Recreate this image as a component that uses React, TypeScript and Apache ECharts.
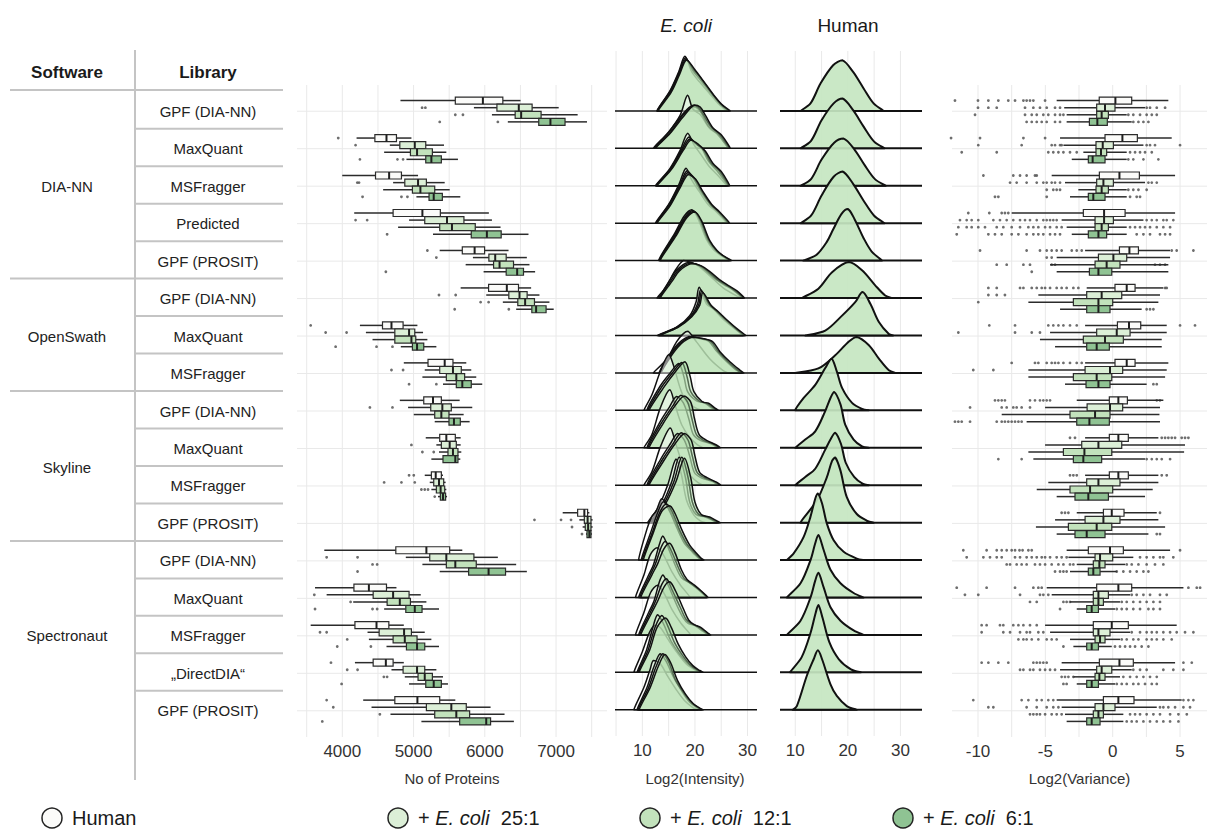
import { useEffect, useRef } from "react";
import * as echarts from "echarts";

// ---------------- table ----------------
const SOFTWARE = ["DIA-NN", "OpenSwath", "Skyline", "Spectronaut"];
const SOFTWARE_ROWS = [[0, 4], [5, 7], [8, 11], [12, 16]];
const LIBRARIES = [
  "GPF (DIA-NN)", "MaxQuant", "MSFragger", "Predicted", "GPF (PROSIT)",
  "GPF (DIA-NN)", "MaxQuant", "MSFragger",
  "GPF (DIA-NN)", "MaxQuant", "MSFragger", "GPF (PROSIT)",
  "GPF (DIA-NN)", "MaxQuant", "MSFragger", "\u201EDirectDIA\u201C", "GPF (PROSIT)",
];
const SAMPLE_LABELS = ["Human", "+ {i|E. coli}  25:1", "+ {i|E. coli}  12:1", "+ {i|E. coli}  6:1"];

// ---------------- No of proteins: [min, q1, median, q3, max] ----------------
const PROT_HUMAN = [
  [4816, 5586, 5973, 6253, 6501], [4200, 4457, 4620, 4760, 4970], [3999, 4466, 4657, 4830, 5063],
  [4167, 4713, 5124, 5376, 6057], [5367, 5684, 5857, 5997, 6333], [5661, 6053, 6309, 6473, 6650],
  [4247, 4564, 4690, 4853, 5054], [4863, 5203, 5437, 5553, 5740], [4807, 5143, 5273, 5390, 5647],
  [5171, 5367, 5460, 5586, 5661], [5157, 5250, 5311, 5390, 5413], [7093, 7303, 7397, 7443, 7467],
  [3747, 4751, 5180, 5507, 5684], [3617, 4163, 4373, 4620, 4760], [3556, 4177, 4480, 4653, 4863],
  [4177, 4433, 4611, 4713, 4863], [4293, 4737, 5054, 5367, 5586],
];
const PROT_E25 = [
  [5847, 6170, 6477, 6664, 7037], [4667, 4807, 5017, 5171, 5427], [4713, 4877, 5063, 5180, 5437],
  [4937, 5157, 5469, 5707, 6100], [5833, 6057, 6146, 6300, 6590], [6020, 6337, 6487, 6594, 6767],
  [4331, 4737, 4937, 5017, 5133], [5157, 5367, 5553, 5670, 5810], [4923, 5241, 5404, 5530, 5824],
  [5320, 5390, 5507, 5600, 5661], [5227, 5283, 5357, 5423, 5450], [7327, 7397, 7443, 7490, 7513],
  [4891, 5227, 5460, 5847, 6183], [3780, 4433, 4713, 4937, 5101], [4354, 4517, 4867, 4970, 5157],
  [4690, 4853, 5049, 5157, 5320], [4410, 5180, 5530, 5740, 6081],
];
const PROT_E12 = [
  [6100, 6426, 6510, 6790, 7303], [4587, 4956, 5049, 5264, 5460], [4573, 4984, 5096, 5297, 5507],
  [4783, 5367, 5539, 5866, 6221], [5731, 6123, 6207, 6403, 6627], [6253, 6463, 6566, 6697, 6907],
  [4424, 4737, 4970, 5031, 5194], [5124, 5460, 5600, 5717, 5880], [5003, 5297, 5390, 5497, 5703],
  [5357, 5483, 5553, 5623, 5670], [5250, 5320, 5380, 5437, 5460], [7373, 7410, 7450, 7490, 7513],
  [5124, 5460, 5586, 5880, 6440], [4153, 4629, 4807, 4956, 5180], [4373, 4713, 4877, 5049, 5250],
  [4877, 5063, 5157, 5264, 5413], [4676, 5297, 5600, 5787, 6277],
];
const PROT_E6 = [
  [6323, 6757, 6921, 7126, 7434], [4900, 5171, 5250, 5390, 5623], [5040, 5217, 5283, 5404, 5656],
  [5273, 5810, 6029, 6230, 6613], [5983, 6300, 6454, 6543, 6706], [6440, 6660, 6720, 6860, 6967],
  [4821, 4984, 5049, 5143, 5320], [5413, 5600, 5684, 5810, 5964], [5297, 5497, 5567, 5656, 5787],
  [5250, 5413, 5586, 5623, 5656], [5343, 5376, 5413, 5450, 5470], [7420, 7434, 7467, 7490, 7504],
  [5367, 5773, 6053, 6291, 6590], [4587, 4891, 5017, 5119, 5357], [4620, 4900, 5049, 5157, 5357],
  [4937, 5171, 5283, 5390, 5483], [5110, 5647, 6020, 6081, 6408],
];
// outliers: [row, sample, value]
const PROT_OUTLIERS = [
  [0, 1, 5120], [0, 1, 5166], [0, 2, 5586], [0, 2, 5693], [0, 3, 5367], [0, 3, 6183],
  [1, 0, 3943], [1, 1, 4186], [1, 3, 4247], [1, 3, 4774], [1, 3, 4853],
  [2, 1, 4210], [2, 1, 4235], [2, 3, 4284], [2, 3, 4830], [2, 3, 4914],
  [3, 1, 4186], [3, 1, 4349], [3, 3, 4629],
  [4, 0, 5194], [4, 1, 5320], [4, 3, 4611],
  [5, 1, 5357], [5, 1, 5591], [5, 2, 5941], [5, 2, 6053], [5, 3, 5577], [5, 3, 6337],
  [6, 0, 3556], [6, 1, 3766], [6, 1, 4060], [6, 3, 3906], [6, 3, 4480], [6, 3, 4704],
  [7, 1, 4690], [7, 1, 4853], [7, 3, 4937], [7, 3, 5320],
  [8, 1, 4387], [8, 1, 4704],
  [9, 1, 4970], [9, 2, 5124], [9, 2, 5283],
  [10, 0, 4937], [10, 0, 5003], [10, 1, 4587], [10, 1, 4830], [10, 1, 5017], [10, 2, 5110], [10, 2, 5157], [10, 2, 5203], [10, 3, 5297],
  [11, 1, 6697], [11, 1, 7070], [11, 1, 7210], [11, 2, 7224], [11, 3, 7364],
  [12, 1, 3780], [12, 1, 4214], [12, 2, 4424], [12, 2, 4489], [12, 3, 4214],
  [13, 1, 3607], [13, 2, 4116], [13, 3, 3617], [13, 3, 4424], [13, 3, 4489],
  [14, 1, 3687], [14, 1, 3780], [14, 2, 4069], [14, 3, 3929], [14, 3, 4401],
  [15, 0, 3841], [15, 1, 4069], [15, 1, 4214], [15, 2, 4583], [15, 2, 4629], [15, 3, 3990],
  [16, 0, 3780], [16, 1, 3873], [16, 2, 4527], [16, 3, 3719],
];

// ---------------- Log2(Variance): [min, q1, median, q3, max] ----------------
const VAR_HUMAN = [
  [-4.16, -1.0, 0.2, 1.41, 4.13], [-3.91, -0.57, 0.72, 1.83, 4.38], [-4.53, -0.99, 0.5, 1.98, 4.63],
  [-7.5, -2.18, -0.64, 0.92, 4.63], [-2.05, 0.5, 1.24, 1.91, 4.26], [-1.93, 0.17, 1.04, 1.66, 3.76],
  [-2.05, 0.35, 1.21, 2.08, 4.01], [-2.05, 0.17, 1.04, 1.66, 4.13], [-2.67, -0.25, 0.42, 1.09, 3.76],
  [-2.05, -0.25, 0.42, 1.16, 3.39], [-2.05, -0.25, 0.42, 1.16, 3.39], [-2.67, -0.69, -0.07, 0.84, 3.27],
  [-3.42, -1.81, -0.2, 0.79, 4.26], [-4.9, -1.19, 0.42, 1.41, 5.25], [-5.02, -1.44, -0.07, 1.16, 4.75],
  [-3.79, -0.99, 0.5, 1.53, 4.63], [-4.16, -0.69, 0.42, 1.58, 5.12],
];
const VAR_E25 = [
  [-3.6, -1.19, -0.57, 0.17, 2.4], [-3.66, -1.24, -0.74, 0.05, 2.28], [-3.54, -1.19, -0.69, 0.05, 2.4],
  [-3.79, -1.31, -0.64, 0.05, 2.28], [-4.16, -1.06, 0.05, 1.04, 4.26], [-5.52, -1.93, -0.82, 0.67, 3.51],
  [-4.65, -1.19, 0.3, 1.29, 4.01], [-6.26, -2.05, -0.2, 0.74, 4.01], [-5.02, -1.9, -0.2, 0.74, 3.51],
  [-5.02, -2.3, -1.06, 0.67, 5.37], [-4.78, -1.93, -1.06, 0.54, 3.39], [-4.28, -2.05, -0.69, 0.54, 3.39],
  [-3.29, -1.31, -0.94, 0.0, 1.53], [-4.53, -1.44, -1.06, -0.32, 1.29], [-4.65, -1.44, -1.06, -0.2, 1.29],
  [-3.91, -1.19, -0.82, -0.07, 1.41], [-3.79, -1.31, -0.69, 0.17, 3.27],
];
const VAR_E12 = [
  [-3.42, -1.19, -0.82, -0.32, 1.04], [-2.18, -1.24, -0.87, -0.45, 1.04], [-2.55, -1.24, -0.82, -0.32, 1.04],
  [-3.42, -1.31, -0.82, -0.32, 1.04], [-4.65, -1.31, -0.45, 0.54, 4.13], [-6.26, -2.92, -1.06, 0.0, 3.39],
  [-5.4, -2.18, -0.57, 0.79, 3.64], [-6.26, -2.92, -1.19, -0.07, 3.89], [-8.24, -3.17, -1.31, -0.2, 3.47],
  [-6.26, -3.66, -2.1, -0.07, 5.3], [-5.64, -3.17, -1.68, 0.0, 2.97], [-5.7, -3.29, -1.19, -0.07, 3.89],
  [-2.67, -1.44, -0.99, -0.57, 0.92], [-3.17, -1.44, -1.06, -0.69, 0.54], [-3.17, -1.31, -0.94, -0.57, 0.54],
  [-2.92, -1.31, -0.99, -0.57, 0.54], [-3.54, -1.44, -1.06, -0.69, 0.79],
];
const VAR_E6 = [
  [-3.42, -1.73, -1.14, -0.4, 1.41], [-3.04, -1.81, -1.49, -0.57, 1.04], [-3.17, -1.81, -1.44, -0.57, 1.04],
  [-3.04, -1.81, -1.06, -0.45, 1.04], [-4.16, -1.73, -1.06, -0.07, 4.13], [-3.91, -1.93, -1.06, -0.2, 2.15],
  [-4.28, -1.93, -1.19, -0.25, 3.64], [-3.54, -1.98, -1.06, -0.2, 2.52], [-6.39, -2.67, -1.73, -0.25, 3.51],
  [-5.89, -2.92, -2.18, -0.82, 2.4], [-4.16, -2.8, -1.81, -0.32, 2.4], [-4.16, -2.8, -1.93, -0.57, 2.65],
  [-3.17, -1.81, -1.44, -0.94, 0.3], [-2.67, -1.93, -1.56, -1.06, 0.17], [-2.92, -1.93, -1.56, -1.06, -0.07],
  [-2.67, -1.93, -1.56, -1.06, 0.17], [-3.42, -1.93, -1.56, -0.94, 0.79],
];
// outliers per row: [human, 25:1, 12:1, 6:1]
const VAR_OUTLIERS = [
  [[-11.71, -10, -9.23, -8.49, -7.75, -7.25, -6.63, -6.39, -6.14, -5.89, -5.02],
   [-10, -9.23, -8.61, -6.51, -5.89, -5.4, -4.9, -4.28, -3.91, 2.52, 2.77, 3.27, 3.89],
   [-10.22, -6.51, -6.01, -5.64, -5.15, -4.78, -4.28, -3.91, -3.66, 1.16, 1.53, 2.03, 2.52, 2.9, 3.27],
   [-6.39, -6.01, -5.64, -5.27, -4.9, -4.28, -3.91, 1.53, 1.91, 2.28, 2.65]],
  [[-12, -9.85, -6.63, -5.02],
   [-9.98, -6.76, -4.53, -4.28, -3.91, -3.79, 2.52, 2.77, 3.14, 5.0],
   [-11.21, -8.61, -4.78, -4.41, -4.03, -3.66, -3.17, -2.67, 1.29, 1.66, 2.03, 2.4, 2.9],
   [1.16, 1.53, 2.28, 3.39]],
  [[-9.6, -7.38, -6.88, -6.39, -5.77, -5.64],
   [-7.62, -7.13, -6.39, -5.64, -5.15, -4.9, -4.53, -4.28, -3.91, 2.65, 2.9, 3.27],
   [-4.9, -4.41, -4.16, -3.91, 1.16, 1.53, 1.91, 2.52],
   [-8.74, -8.49, -4.9, 1.29, 1.78, 2.03]],
  [[-10.72, -9.16, -8.24, -8.0, -7.75],
   [-11.34, -10.84, -10.47, -9.98, -8.86, -8.37, -7.87, -7.38, -6.88, -6.51, -6.14, -5.64, -5.15, -4.9, -4.65, -4.41, -4.16, 2.52, 2.9, 3.27, 3.76, 4.01, 4.5],
   [-11.46, -10.84, -10.47, -9.98, -9.48, -8.61, -8.12, -7.5, -6.88, -6.26, -5.89, -5.52, -5.02, -4.65, -4.16, -3.79, 1.29, 1.66, 2.03, 2.4, 2.77, 3.27, 3.76, 4.26],
   [-11.58, -9.23, -8.74, -8.24, -7.5, -7.0, -6.39, -5.89, -5.52, -5.15, -4.65, -4.28, -3.91, 1.78, 2.28, 2.77, 3.51, 3.89, 4.26]],
  [[-9.85, -6.39, -5.4, -4.9, -4.53, -4.16, -3.79, -3.04, -2.67, -2.3, 4.38, 4.75, 5.99],
   [-4.9, -4.53],
   [-8.61, -7.87, -6.63, -6.14, -4.53, -4.28, 3.14, 3.51, 3.89],
   [-6.01]],
  [[-9.23, -8.61, -6.88, -6.63, -6.01, -5.64, -5.27, -5.02, -4.65, -4.16, -3.79, -3.42, -2.92, -2.55, 3.89, 4.01],
   [-9.23, -8.61, -8.0],
   [-9.98],
   [2.52, 2.77, 3.02]],
  [[-9.16, -7.25, -4.78, -4.41, -4.03, -3.66, -3.17, -2.67, 5.0, 6.11],
   [-11.46, -7.25, -6.01, -5.4],
   [],
   []],
  [[-7.5, -5.77, -5.52, -4.9, -4.53, -4.28, -4.03, -3.66, -3.17, -2.67, -2.3],
   [-10.35, -8.86],
   [],
   [3.02, 3.27]],
  [[-8.74, -8.49, -8.24, -8.0, -6.14, -5.77, -5.4, -5.15, -4.9, -4.65, 3.27, 3.51],
   [-10.59, -8.24, -7.87, -7.38, -7.13, -6.76, -6.14],
   [],
   [-11.71, -11.46, -11.21, -10.59, -8.61, -8.24, -8.0, -7.75, -7.5, -7.25, -7.0, -6.76]],
  [[-3.17, -2.8, 3.64, 3.89, 4.13, 4.38, 4.63, 5.12, 5.37, 5.62],
   [],
   [],
   [-8.49, -6.76, 2.52, 2.9, 3.27, 3.64, 4.26]],
  [[-3.17, -2.92, -2.67, 3.64, 4.01],
   [],
   [],
   []],
  [[-3.79, -3.54, -3.29, 3.51],
   [],
   [],
   [3.27, 3.51]],
  [[-11.09, -9.36, -8.61, -8.24, -7.87, -7.5, -7.25, -6.92, -6.69, -6.26, -6.01, 5.0],
   [-10.84, -9.6, -9.11, -8.61, -8.24, -7.25, -6.88, -6.39, -6.01, -5.64, -5.27, -5.02, -4.65, -4.16, -3.79, -3.42, 2.03, 2.52, 3.02, 3.51, 3.76, 4.5],
   [-7.87, -7.62, -7.13, -6.76, -6.39, -5.77, -5.4, -5.02, -4.53, -4.03, -3.66, -3.17, -2.92, 1.04, 1.41, 1.91, 2.52, 3.14, 3.76],
   [-4.28, -3.91, -3.66, -3.42, 0.3, 0.79, 1.29, 1.78, 2.28, 2.65]],
  [[-11.58, -9.36, -7.25, -5.89, -5.52, -5.27, 5.62, 6.24, 6.49],
   [-10.97, -9.98, -6.88, -5.4, -5.15, -4.78, 1.41, 1.78, 2.28, 2.77, 3.51, 4.01],
   [-6.14, -5.64, -3.66, -3.42, -3.17, 0.67, 1.04, 1.53, 2.03, 2.52, 3.02, 3.51],
   [-3.91, 0.3, 0.67, 1.04, 1.53, 2.03, 2.65, 3.02, 3.51]],
  [[-9.73, -9.36, -8.37, -8.12, -7.38, -7.0, -6.63, -6.14, -5.64],
   [-9.73, -8.12, -7.62, -6.88, -6.39, -6.14, -5.52, -5.15, 1.41, 2.03, 2.52, 2.9, 3.27, 3.76, 4.26, 4.75, 5.37, 5.99],
   [-7.0, -6.63, -6.39, -6.01, -5.52, -4.9, -4.53, -4.16, 0.67, 1.04, 1.53, 1.91, 2.52, 2.9, 3.27, 3.76, 4.38],
   [-3.66, 0.17, 0.54, 0.92, 1.29, 1.66, 2.15, 2.65]],
  [[-9.73, -9.23, -8.49, -7.75, -5.89, -5.64, -5.4, -5.15, -4.9, 5.25, 5.87],
   [-6.88, -6.63, -6.14, -5.89, -5.4, -5.02, -4.65, -4.28, 1.53, 2.03, 2.52, 3.76, 4.5, 5.25],
   [-3.79, -3.54, -3.29, -2.92, 0.79, 1.29, 1.78, 2.28, 2.77, 3.27],
   [-3.66, -3.42, 0.3, 0.67, 1.04, 1.53, 1.91, 2.4, 2.9, 3.27]],
  [[-10.35, -6.76, -6.26, -5.64, -5.27, -4.78, -4.41, 5.25, 5.62, 5.99],
   [-9.23, -8.86, -6.39, -5.64, -4.9, -4.41, -4.03, 3.51, 3.76, 4.13, 4.63, 5.25, 5.74],
   [-6.14, -5.89, -5.64, -5.4, -5.02, -4.53, -4.16, -3.79, 1.29, 1.66, 2.03, 2.52, 3.02, 3.51, 4.26, 4.88, 5.5],
   [1.04, 1.41, 1.78, 2.28, 2.77, 3.27, 3.76, 4.26, 4.88]],
];

// ---------------- Log2(Intensity) density ridges: knots [log2 intensity, height in rows] ----------------
const ECOLI_HUMAN = [
  [[12.8, 0], [15.3, 0.55], [16.9, 1.04], [18.1, 1.46], [19.4, 1.04], [20.9, 0.77], [22.8, 0.46], [24.4, 0.2], [26, 0]],
  [[12.1, 0], [15, 0.44], [17.2, 0.89], [18.6, 1.42], [19.6, 1.05], [21, 0.9], [22.8, 0.53], [24.1, 0.4], [26.3, 0]],
  [[12.5, 0], [15.2, 0.45], [17.2, 0.95], [18.6, 1.4], [19.8, 1.1], [21.3, 0.8], [22.8, 0.5], [24.2, 0.3], [26, 0]],
  [[12.5, 0], [15, 0.5], [17, 1.05], [18.3, 1.47], [19.4, 1.15], [20.8, 0.85], [22.5, 0.5], [24.1, 0.3], [26, 0]],
  [[13.1, 0], [16.2, 0.74], [18, 1.2], [19.4, 1.36], [20.5, 1.15], [22.2, 0.56], [23.5, 0.3], [24.7, 0.16], [26.5, 0]],
  [[12.8, 0], [14.5, 0.3], [16.3, 0.75], [17.8, 1.0], [19.3, 0.95], [20.6, 0.86], [22.8, 0.6], [25.3, 0.28], [27.9, 0.06], [29, 0]],
  [[12.8, 0], [16.5, 0.22], [19, 0.53], [20.2, 0.89], [20.8, 1.29], [22.2, 0.84], [23.5, 0.71], [25.3, 0.44], [27.2, 0.22], [29.1, 0]],
  [[12.1, 0], [14.7, 0.38], [16.5, 0.83], [17.8, 1.05], [18.7, 1.11], [20.3, 0.83], [22.8, 0.38], [25.3, 0.07], [26.3, 0]],
  [[10.3, 0], [11.8, 0.41], [13.4, 1.03], [15, 1.49], [15.9, 1.21], [17.2, 0.59], [18.4, 0.23], [20.3, 0.05], [21.5, 0]],
  [[10.3, 0], [11.8, 0.35], [13.4, 1.06], [15.2, 1.55], [16.2, 1.15], [17.5, 0.61], [19.1, 0.26], [20.5, 0.08], [21.5, 0]],
  [[10.3, 0], [11.8, 0.35], [13.5, 1.05], [15.3, 1.53], [16.3, 1.13], [17.6, 0.6], [19.2, 0.25], [20.6, 0.07], [21.6, 0]],
  [[11, 0], [13, 0.4], [14.8, 1.0], [16.4, 1.7], [17.4, 1.3], [18.4, 0.6], [19.8, 0.2], [21, 0.05], [22, 0]],
  [[9.3, 0], [10.9, 0.84], [11.8, 1.16], [12.6, 1.3], [13.7, 1.64], [15, 1.38], [16.5, 0.93], [18.1, 0.49], [19.7, 0.18], [21.3, 0]],
  [[8.7, 0], [10.3, 0.6], [11.5, 1.14], [12.8, 1.33], [14, 1.14], [15.6, 0.69], [17.2, 0.34], [19.1, 0]],
  [[8.7, 0], [10.3, 0.6], [11.6, 1.14], [12.9, 1.33], [14.1, 1.12], [15.7, 0.66], [17.3, 0.32], [19.2, 0]],
  [[8.4, 0], [10, 0.55], [11.3, 1.05], [12.3, 1.25], [13.4, 1.2], [14.8, 0.9], [16.5, 0.55], [18.4, 0.22], [20.3, 0.04], [21, 0]],
  [[8.4, 0], [10.3, 0.6], [11.5, 1.09], [12.1, 1.32], [13.4, 1.23], [14.8, 0.9], [16.4, 0.55], [18, 0.25], [19.6, 0.06], [20.5, 0]],
];
const ECOLI_25 = [
  [[12.8, 0], [15.3, 0.53], [16.9, 1.0], [18.2, 1.42], [19.6, 1.08], [21.2, 0.8], [23.2, 0.45], [24.8, 0.18], [26.3, 0]],
  [[12.3, 0], [15, 0.42], [17.3, 0.85], [19.2, 1.12], [20.2, 1.1], [21.2, 0.95], [22.5, 0.6], [24.3, 0.38], [26.3, 0]],
  [[12.6, 0], [15.3, 0.45], [17.4, 0.95], [18.8, 1.3], [20, 1.15], [21.3, 1.0], [22.6, 0.65], [24.2, 0.4], [26.2, 0]],
  [[12.6, 0], [15.1, 0.5], [17.1, 1.02], [18.5, 1.4], [19.7, 1.2], [21, 0.88], [22.8, 0.52], [24.3, 0.32], [26.2, 0]],
  [[13.2, 0], [16.3, 0.72], [18.2, 1.18], [19.6, 1.34], [20.8, 1.12], [22.4, 0.56], [23.8, 0.3], [25, 0.15], [26.7, 0]],
  [[13.2, 0], [15.3, 0.5], [16.6, 0.76], [18.7, 0.95], [20.6, 0.88], [22.3, 0.7], [23.8, 0.52], [25.5, 0.36], [27.2, 0.22], [29, 0]],
  [[13, 0], [16.6, 0.22], [19.2, 0.52], [20.5, 0.85], [21.1, 1.22], [22.5, 0.85], [23.8, 0.68], [25.6, 0.44], [27.5, 0.2], [29.3, 0]],
  [[13.2, 0], [16.3, 0.7], [18.8, 0.97], [20.9, 0.92], [22.6, 0.85], [24, 0.6], [25.9, 0.32], [27.8, 0.08], [28.8, 0]],
  [[10.9, 0], [13.4, 0.65], [15.3, 1.0], [16.9, 1.25], [17.9, 0.9], [18.6, 0.5], [20.3, 0.25], [21.8, 0.2], [23.3, 0.05], [24, 0]],
  [[10.9, 0], [13.4, 0.7], [15.2, 1.1], [16.5, 1.37], [17.8, 1.2], [18.8, 0.79], [19.7, 0.35], [21, 0.2], [23.2, 0.1], [24.2, 0]],
  [[10.9, 0], [13.5, 0.7], [15.3, 1.1], [16.7, 1.38], [18, 1.2], [19, 0.78], [19.9, 0.34], [21.2, 0.2], [23.4, 0.1], [24.3, 0]],
  [[11.5, 0], [13.8, 0.5], [15.6, 1.1], [17, 1.75], [18.2, 1.2], [19, 0.55], [20.2, 0.22], [22, 0.15], [23.5, 0.05], [24.2, 0]],
  [[9.8, 0], [11.5, 0.7], [13, 1.3], [14, 1.56], [15.2, 1.3], [16.6, 0.85], [18, 0.45], [19.5, 0.22], [20.5, 0.08], [21.3, 0]],
  [[9.3, 0], [11.2, 0.6], [12.1, 0.87], [13.2, 1.4], [13.9, 1.64], [15, 1.3], [16.5, 0.78], [17.5, 0.52], [19.1, 0.38], [20.3, 0.25], [21.6, 0.09], [22.2, 0]],
  [[9.3, 0], [11.2, 0.6], [12.2, 0.9], [13.2, 1.4], [13.9, 1.6], [15, 1.3], [16.6, 0.78], [17.8, 0.45], [18.7, 0.31], [20, 0.25], [21.5, 0.1], [22.5, 0]],
  [[9, 0], [10.8, 0.6], [12, 1.2], [12.9, 1.54], [14, 1.3], [15.4, 0.85], [17, 0.5], [18.6, 0.24], [20.3, 0.06], [21.2, 0]],
  [[9, 0], [10.9, 0.6], [12.2, 1.15], [13.4, 1.5], [14.5, 1.3], [16, 0.85], [17.5, 0.5], [19, 0.2], [20.5, 0.05], [21.2, 0]],
];
const ECOLI_12 = [
  [[12.9, 0], [15.4, 0.52], [17, 1.0], [18.3, 1.38], [19.8, 1.1], [21.4, 0.82], [23.4, 0.44], [25, 0.17], [26.5, 0]],
  [[12.4, 0], [15.2, 0.4], [17.5, 0.85], [19.6, 1.15], [20.6, 1.1], [21.6, 0.9], [23, 0.58], [24.6, 0.38], [26.5, 0]],
  [[12.7, 0], [15.4, 0.44], [17.6, 0.95], [19, 1.25], [20.4, 1.1], [21.7, 0.95], [23, 0.62], [24.6, 0.4], [26.4, 0]],
  [[12.7, 0], [15.2, 0.48], [17.2, 1.0], [18.6, 1.35], [19.9, 1.2], [21.3, 0.86], [23, 0.5], [24.5, 0.3], [26.4, 0]],
  [[13.3, 0], [16.4, 0.7], [18.3, 1.16], [19.8, 1.32], [21, 1.1], [22.6, 0.55], [24, 0.28], [25.2, 0.14], [26.8, 0]],
  [[13.3, 0], [15.5, 0.48], [16.8, 0.74], [19, 0.93], [20.9, 0.87], [22.6, 0.7], [24.2, 0.5], [25.9, 0.35], [27.6, 0.2], [29.2, 0]],
  [[13.1, 0], [16.7, 0.22], [19.3, 0.5], [20.7, 0.82], [21.3, 1.18], [22.8, 0.82], [24.1, 0.66], [25.9, 0.42], [27.8, 0.18], [29.5, 0]],
  [[13.4, 0], [16.5, 0.69], [19.1, 0.96], [21.3, 0.92], [23, 0.84], [24.4, 0.58], [26.3, 0.3], [28.2, 0.07], [29, 0]],
  [[11.1, 0], [13.7, 0.63], [15.7, 1.0], [17.5, 1.28], [18.5, 0.9], [19.2, 0.5], [20.9, 0.24], [22.2, 0.19], [23.6, 0.05], [24.3, 0]],
  [[11.1, 0], [13.7, 0.68], [15.7, 1.1], [17.3, 1.4], [18.6, 1.22], [19.4, 0.79], [20.3, 0.35], [21.6, 0.2], [23.6, 0.09], [24.5, 0]],
  [[11.1, 0], [13.8, 0.68], [15.8, 1.1], [17.4, 1.4], [18.7, 1.2], [19.5, 0.78], [20.4, 0.34], [21.8, 0.2], [23.8, 0.09], [24.6, 0]],
  [[11.7, 0], [14.1, 0.5], [16, 1.1], [17.5, 1.75], [18.7, 1.2], [19.5, 0.55], [20.7, 0.22], [22.4, 0.15], [23.8, 0.05], [24.5, 0]],
  [[10, 0], [11.8, 0.7], [13.4, 1.3], [14.6, 1.5], [15.7, 1.28], [17.1, 0.8], [18.5, 0.42], [19.9, 0.2], [20.8, 0.07], [21.5, 0]],
  [[9.5, 0], [11.5, 0.6], [12.5, 0.9], [13.6, 1.35], [14.4, 1.5], [15.5, 1.25], [17, 0.75], [18, 0.5], [19.5, 0.35], [20.7, 0.22], [21.8, 0.08], [22.3, 0]],
  [[9.5, 0], [11.5, 0.6], [12.5, 0.9], [13.7, 1.35], [14.6, 1.5], [15.6, 1.22], [17.2, 0.74], [18.3, 0.42], [19.3, 0.3], [20.6, 0.22], [22, 0.08], [22.8, 0]],
  [[9.2, 0], [11.1, 0.6], [12.4, 1.2], [13.7, 1.52], [14.8, 1.25], [16.1, 0.8], [17.6, 0.46], [19.1, 0.2], [20.6, 0.05], [21.4, 0]],
  [[9.2, 0], [11.2, 0.6], [12.6, 1.15], [13.9, 1.5], [15, 1.28], [16.3, 0.8], [17.9, 0.45], [19.4, 0.18], [20.8, 0.04], [21.4, 0]],
];
const ECOLI_6 = [
  [[13, 0], [15.5, 0.5], [17.1, 0.98], [18.4, 1.36], [20, 1.1], [21.6, 0.8], [23.6, 0.42], [25.2, 0.16], [26.7, 0]],
  [[12.5, 0], [15.3, 0.4], [17.7, 0.83], [19.9, 1.16], [21, 1.1], [22, 0.88], [23.4, 0.55], [25, 0.36], [26.7, 0]],
  [[12.8, 0], [15.5, 0.43], [17.8, 0.95], [19.2, 1.22], [20.7, 1.1], [22, 0.92], [23.4, 0.6], [25, 0.38], [26.6, 0]],
  [[12.8, 0], [15.3, 0.47], [17.3, 0.98], [18.7, 1.3], [20.1, 1.18], [21.5, 0.85], [23.2, 0.5], [24.7, 0.3], [26.6, 0]],
  [[13.4, 0], [16.5, 0.68], [18.4, 1.14], [20, 1.3], [21.2, 1.08], [22.8, 0.54], [24.2, 0.27], [25.4, 0.13], [27, 0]],
  [[13.4, 0], [15.7, 0.46], [17, 0.72], [19.3, 0.92], [21.2, 0.86], [22.9, 0.7], [24.6, 0.5], [26.3, 0.34], [28, 0.19], [29.4, 0]],
  [[13.2, 0], [16.8, 0.22], [19.4, 0.5], [20.9, 0.8], [21.5, 1.14], [23.1, 0.8], [24.4, 0.64], [26.2, 0.4], [28.1, 0.17], [29.7, 0]],
  [[13.6, 0], [16.7, 0.68], [19.4, 0.95], [21.7, 0.91], [23.4, 0.83], [24.8, 0.56], [26.7, 0.29], [28.6, 0.07], [29.3, 0]],
  [[11.3, 0], [14, 0.6], [16.1, 1.0], [18.1, 1.3], [19.1, 0.9], [19.8, 0.5], [21.4, 0.23], [22.6, 0.19], [23.9, 0.05], [24.5, 0]],
  [[11.3, 0], [14, 0.66], [16.1, 1.1], [17.9, 1.38], [19.2, 1.22], [19.9, 0.79], [20.8, 0.35], [22.2, 0.2], [24, 0.08], [24.8, 0]],
  [[11.3, 0], [14.1, 0.66], [16.2, 1.1], [18, 1.38], [19.3, 1.2], [20, 0.78], [20.9, 0.34], [22.3, 0.2], [24.1, 0.08], [24.9, 0]],
  [[11.9, 0], [14.4, 0.5], [16.4, 1.1], [18, 1.72], [19.2, 1.2], [20, 0.55], [21.2, 0.22], [22.8, 0.15], [24.1, 0.05], [24.8, 0]],
  [[10.2, 0], [12, 0.7], [13.7, 1.3], [15.2, 1.45], [16.2, 1.25], [17.6, 0.78], [19, 0.4], [20.3, 0.18], [21.1, 0.06], [21.7, 0]],
  [[9.7, 0], [11.8, 0.6], [12.9, 0.9], [14.1, 1.3], [15.2, 1.45], [16.2, 1.2], [17.5, 0.72], [18.5, 0.48], [19.9, 0.33], [21, 0.2], [22, 0.07], [22.5, 0]],
  [[9.7, 0], [11.8, 0.6], [12.9, 0.9], [14.2, 1.3], [15.2, 1.42], [16.3, 1.18], [17.8, 0.7], [18.8, 0.4], [19.8, 0.28], [21.1, 0.2], [22.3, 0.07], [23, 0]],
  [[9.4, 0], [11.4, 0.6], [12.8, 1.2], [14.4, 1.45], [15.5, 1.2], [16.8, 0.76], [18.2, 0.42], [19.6, 0.18], [20.9, 0.05], [21.6, 0]],
  [[9.4, 0], [11.5, 0.6], [13, 1.15], [14.3, 1.48], [15.4, 1.25], [16.7, 0.78], [18.2, 0.42], [19.7, 0.16], [21, 0.04], [21.6, 0]],
];
const HUMAN_RIDGE = [
  [[11, 0], [12.9, 0.2], [14.8, 0.73], [17.2, 1.22], [19, 1.35], [21, 1.04], [23, 0.6], [24.9, 0.2], [26.8, 0]],
  [[11, 0], [13, 0.2], [15, 0.75], [17.3, 1.2], [19, 1.33], [21, 1.02], [23, 0.58], [25, 0.18], [27, 0]],
  [[11, 0], [13, 0.18], [15, 0.7], [17.4, 1.15], [19.2, 1.26], [21.2, 0.98], [23.2, 0.55], [25.2, 0.17], [27.2, 0]],
  [[11, 0], [13, 0.2], [15, 0.74], [17.3, 1.24], [19, 1.38], [21, 1.05], [23, 0.6], [25, 0.2], [27, 0]],
  [[11.5, 0], [14, 0.15], [16, 0.5], [17.2, 0.83], [18.8, 1.25], [20, 1.38], [21.3, 1.1], [23, 0.6], [24.5, 0.25], [26.5, 0]],
  [[11.3, 0], [14.4, 0.25], [17, 0.69], [20.2, 0.96], [22.7, 0.74], [25.2, 0.34], [27.1, 0.07], [28.4, 0]],
  [[11.9, 0], [15.7, 0.13], [18.9, 0.53], [21.4, 0.89], [22.8, 1.16], [24.3, 0.84], [25.9, 0.36], [27.8, 0.04], [28.6, 0]],
  [[10, 0], [14.4, 0.12], [17.6, 0.47], [20.2, 0.84], [21.7, 0.96], [24, 0.74], [25.9, 0.38], [27.8, 0.07], [29, 0]],
  [[10, 0], [11.6, 0.33], [13.8, 0.68], [15.7, 1.13], [16.9, 1.38], [17.9, 1.04], [18.9, 0.6], [20.8, 0.2], [22.7, 0.04], [24, 0]],
  [[10, 0], [11.9, 0.22], [13.8, 0.44], [15.7, 0.98], [16.7, 1.33], [17.4, 1.49], [18.6, 1.16], [19.5, 0.62], [21.1, 0.22], [22.7, 0.04], [24, 0]],
  [[10, 0], [11.9, 0.22], [13.8, 0.44], [15.7, 0.95], [16.8, 1.25], [17.6, 1.4], [18.7, 1.1], [19.6, 0.6], [21.2, 0.22], [22.8, 0.04], [24, 0]],
  [[11, 0], [14.1, 0.59], [16, 1.21], [17, 1.65], [17.6, 1.74], [18.6, 1.39], [19.8, 0.68], [21.7, 0.23], [23.7, 0.05], [24.9, 0]],
  [[8.4, 0], [9.7, 0.18], [11.6, 0.62], [12.9, 1.16], [13.8, 1.64], [14.3, 1.78], [15.1, 1.51], [16, 0.98], [17.3, 0.53], [19.2, 0.22], [21.7, 0.04], [23, 0]],
  [[8.4, 0], [11, 0.38], [12.9, 1.0], [13.8, 1.45], [14.4, 1.67], [15.4, 1.27], [16.7, 0.74], [18.6, 0.38], [21.1, 0.12], [23, 0]],
  [[8.4, 0], [11, 0.38], [12.9, 1.0], [13.8, 1.45], [14.4, 1.66], [15.4, 1.27], [16.7, 0.74], [18.6, 0.38], [21.1, 0.12], [23, 0]],
  [[9, 0], [11.2, 0.4], [12.9, 1.05], [13.9, 1.6], [14.4, 1.8], [15.2, 1.45], [16.5, 0.8], [18.3, 0.35], [20.6, 0.08], [22.5, 0]],
  [[9.5, 0], [10.3, 0.1], [12.2, 0.91], [13.5, 1.35], [14.3, 1.59], [15.1, 1.35], [16.7, 0.68], [17.9, 0.37], [19.8, 0.1], [21.7, 0]],
];

// ---------------- axes ----------------
const PROT_TICKS = [4000, 5000, 6000, 7000];
const PROT_GRID = [3500, 4000, 4500, 5000, 5500, 6000, 6500, 7000, 7500];
const INT_TICKS = [10, 20, 30];
const ECOLI_GRID = [5, 10, 15, 20, 25, 30];
const HUMAN_GRID = [10, 15, 20, 25, 30];
const VAR_TICKS = [-10, -5, 0, 5];
const VAR_GRID = [-10, -7.5, -5, -2.5, 0, 2.5, 5];

// ---------------- styling ----------------
const FONT = "Liberation Sans, Arial, Helvetica, sans-serif";
const INK = "#2b2b2b";
const BOX_FILL = ["#fbfbf9", "#dcefd7", "#c2e2bc", "#8fc393"];
const RIDGE_FILL = ["rgba(255,255,255,0.5)", "rgba(229,245,224,0.45)", "rgba(205,235,198,0.45)", "rgba(165,216,160,0.45)"];
const GRID_COLOR = "#e9e9e9";
const DODGE = 7.1;
const BOX_H = 7;

const ROWS = LIBRARIES.map((_, i) => i);

function boxItems(sets: number[][][]) {
  const out: number[][] = [];
  ROWS.forEach((r) => sets.forEach((set, g) => out.push([r, g, ...set[r]])));
  return out;
}

function boxRender(params: any, api: any) {
  const row = api.value(0);
  const g = api.value(1);
  const v = [api.value(2), api.value(3), api.value(4), api.value(5), api.value(6)];
  const yc = api.coord([v[2], row])[1] + (g - 1.5) * DODGE;
  const xs = v.map((x: number) => api.coord([x, row])[0]);
  const ls = { stroke: INK, lineWidth: 1.5 };
  return {
    type: "group",
    children: [
      { type: "line", shape: { x1: xs[0], y1: yc, x2: xs[1], y2: yc }, style: ls },
      { type: "line", shape: { x1: xs[3], y1: yc, x2: xs[4], y2: yc }, style: ls },
      { type: "rect", shape: { x: xs[1], y: yc - BOX_H / 2, width: Math.max(1, xs[3] - xs[1]), height: BOX_H },
        style: { fill: BOX_FILL[g], stroke: INK, lineWidth: 1.2 } },
      { type: "line", shape: { x1: xs[2], y1: yc - BOX_H / 2, x2: xs[2], y2: yc + BOX_H / 2 }, style: { stroke: "#1e1e1e", lineWidth: 2 } },
    ],
  };
}

function outlierRender(params: any, api: any) {
  const row = api.value(0);
  const g = api.value(1);
  const p = api.coord([api.value(2), row]);
  return { type: "circle", shape: { cx: p[0], cy: p[1] + (g - 1.5) * DODGE, r: 1.4 }, style: { fill: "#4a4a4a", opacity: 0.8 } };
}

function vGridRender(params: any, api: any) {
  const cs = params.coordSys;
  const x = api.coord([api.value(0), 0])[0];
  return { type: "line", shape: { x1: x, y1: cs.y, x2: x, y2: cs.y + cs.height }, style: { stroke: GRID_COLOR, lineWidth: 1 } };
}
function hGridRender(params: any, api: any) {
  const cs = params.coordSys;
  const y = api.coord([0, api.value(1)])[1];
  return { type: "line", shape: { x1: cs.x, y1: y, x2: cs.x + cs.width, y2: y }, style: { stroke: GRID_COLOR, lineWidth: 1 } };
}

type Curve = { row: number; g: number; knots: number[][] };

function ridgeRender(curves: Curve[], fills: string[], lw: number) {
  return (params: any, api: any) => {
    const c = curves[params.dataIndex];
    const cs = params.coordSys;
    const pts = c.knots.map(([v, h]) => api.coord([v, c.row - h]));
    const children: any[] = [];
    if (c.g === 0) {
      const yb = api.coord([0, c.row])[1];
      children.push({ type: "line", shape: { x1: cs.x, y1: yb, x2: cs.x + cs.width, y2: yb }, style: { stroke: "#111", lineWidth: lw } });
    }
    children.push({
      type: "polygon",
      shape: { points: pts, smooth: 0.32, smoothConstraint: [pts[0], pts[0]] },
      style: { fill: fills[c.g], stroke: "#111", lineWidth: lw, lineJoin: "round" },
    });
    return { type: "group", children };
  };
}

const ECOLI_CURVES: Curve[] = [];
ROWS.forEach((r) => {
  [ECOLI_HUMAN, ECOLI_25, ECOLI_12, ECOLI_6].forEach((set, g) => ECOLI_CURVES.push({ row: r, g, knots: set[r] }));
});
const HUMAN_CURVES: Curve[] = ROWS.map((r) => ({ row: r, g: 0, knots: HUMAN_RIDGE[r] }));

const VAR_OUT_ITEMS: number[][] = [];
VAR_OUTLIERS.forEach((row, r) => row.forEach((list, g) => list.forEach((v) => VAR_OUT_ITEMS.push([r, g, v]))));

function axisX(gridIndex: number, min: number, max: number, ticks: number[], name: string, nameGap: number, shift = 0) {
  return {
    gridIndex, type: "value", min, max,
    axisLine: { show: false }, axisTick: { show: false }, splitLine: { show: false },
    axisLabel: { customValues: ticks, fontSize: 17, color: "#333", margin: 6, fontFamily: FONT, formatter: (v: number) => String(v) },
    name, nameLocation: "middle", nameGap,
    nameTextStyle: { fontSize: 15, color: "#333", fontFamily: FONT, padding: [0, 0, 0, shift] },
  };
}
function axisY(gridIndex: number, min: number, max: number) {
  return { gridIndex, type: "value", min, max, inverse: true, show: false, splitLine: { show: false } };
}

function buildOption() {
  const silent = { silent: true, animation: false };
  return {
    animation: false,
    backgroundColor: "#ffffff",
    textStyle: { fontFamily: FONT },
    grid: [
      { left: 297, top: 85, width: 310, height: 652 },
      { left: 615, top: 51, width: 142, height: 685 },
      { left: 780, top: 51, width: 142, height: 685 },
      { left: 952, top: 85, width: 255, height: 652 },
    ],
    xAxis: [
      axisX(0, 3364, 7715, PROT_TICKS, "No of Proteins", 34),
      axisX(1, 4.8, 31.8, INT_TICKS, "Log2(Intensity)", 35, 18),
      axisX(2, 7.1, 34.1, INT_TICKS, "", 35),
      axisX(3, -11.93, 7.0, VAR_TICKS, "Log2(Variance)", 34),
    ],
    yAxis: [axisY(0, -0.7, 16.7), axisY(1, -1.6, 16.7), axisY(2, -1.6, 16.7), axisY(3, -0.7, 16.7)],
    series: [
      { type: "custom", name: "pgrid", xAxisIndex: 0, yAxisIndex: 0, z: 0, ...silent, renderItem: vGridRender, data: PROT_GRID.map((v) => [v, 0]) },
      { type: "custom", name: "prows", xAxisIndex: 0, yAxisIndex: 0, z: 0, ...silent, renderItem: hGridRender, data: ROWS.map((r) => [0, r]) },
      { type: "custom", name: "egrid", xAxisIndex: 1, yAxisIndex: 1, z: 0, ...silent, renderItem: vGridRender, data: ECOLI_GRID.map((v) => [v, 0]) },
      { type: "custom", name: "hgrid", xAxisIndex: 2, yAxisIndex: 2, z: 0, ...silent, renderItem: vGridRender, data: HUMAN_GRID.map((v) => [v, 0]) },
      { type: "custom", name: "vgrid", xAxisIndex: 3, yAxisIndex: 3, z: 0, ...silent, renderItem: vGridRender, data: VAR_GRID.map((v) => [v, 0]) },
      { type: "custom", name: "vrows", xAxisIndex: 3, yAxisIndex: 3, z: 0, ...silent, renderItem: hGridRender, data: ROWS.map((r) => [0, r]) },
      { type: "custom", name: "protOut", xAxisIndex: 0, yAxisIndex: 0, z: 2, ...silent, renderItem: outlierRender, encode: { x: 2, y: 0 }, data: PROT_OUTLIERS },
      { type: "custom", name: "protBox", xAxisIndex: 0, yAxisIndex: 0, z: 3, ...silent, renderItem: boxRender, encode: { x: [2, 3, 4, 5, 6], y: 0 },
        data: boxItems([PROT_HUMAN, PROT_E25, PROT_E12, PROT_E6]) },
      { type: "custom", name: "ecoli", xAxisIndex: 1, yAxisIndex: 1, z: 2, ...silent, renderItem: ridgeRender(ECOLI_CURVES, RIDGE_FILL, 1.5),
        data: ECOLI_CURVES.map((c) => [c.knots[0][0], c.row]) },
      { type: "custom", name: "human", xAxisIndex: 2, yAxisIndex: 2, z: 2, ...silent, renderItem: ridgeRender(HUMAN_CURVES, ["rgba(198,230,193,0.92)"], 2),
        data: HUMAN_CURVES.map((c) => [c.knots[0][0], c.row]) },
      { type: "custom", name: "varOut", xAxisIndex: 3, yAxisIndex: 3, z: 2, ...silent, renderItem: outlierRender, encode: { x: 2, y: 0 }, data: VAR_OUT_ITEMS },
      { type: "custom", name: "varBox", xAxisIndex: 3, yAxisIndex: 3, z: 3, ...silent, renderItem: boxRender, encode: { x: [2, 3, 4, 5, 6], y: 0 },
        data: boxItems([VAR_HUMAN, VAR_E25, VAR_E12, VAR_E6]) },
    ],
  };
}

function buildGraphic(chart: any) {
  const rowY = (r: number) => chart.convertToPixel({ gridIndex: 0 }, [5000, r])[1];
  const line = "#c4c4c4";
  const els: any[] = [];
  // header
  els.push({ type: "text", x: 67, y: 72, style: { text: "Software", font: `bold 17px ${FONT}`, fill: "#1a1a1a", align: "center", verticalAlign: "middle" } });
  els.push({ type: "text", x: 208, y: 72, style: { text: "Library", font: `bold 17px ${FONT}`, fill: "#1a1a1a", align: "center", verticalAlign: "middle" } });
  els.push({ type: "line", shape: { x1: 135, y1: 50, x2: 135, y2: 780 }, style: { stroke: line, lineWidth: 2 } });
  els.push({ type: "line", shape: { x1: 10, y1: 90, x2: 283, y2: 90 }, style: { stroke: line, lineWidth: 2 } });
  const groupEnds = SOFTWARE_ROWS.map((s) => s[1]);
  ROWS.forEach((r) => {
    els.push({ type: "text", x: 208, y: rowY(r), style: { text: LIBRARIES[r], font: `15px ${FONT}`, fill: "#222", align: "center", verticalAlign: "middle" } });
    if (r < ROWS.length - 1) {
      const yb = rowY(r) + 17.5;
      const isGroup = groupEnds.indexOf(r) >= 0;
      els.push({ type: "line", shape: { x1: isGroup ? 10 : 136, y1: yb, x2: 283, y2: yb }, style: { stroke: line, lineWidth: 2 } });
    }
  });
  SOFTWARE.forEach((s, i) => {
    const [a, b] = SOFTWARE_ROWS[i];
    els.push({ type: "text", x: 67, y: (rowY(a) + rowY(b)) / 2, style: { text: s, font: `15px ${FONT}`, fill: "#222", align: "center", verticalAlign: "middle" } });
  });
  // titles
  els.push({ type: "text", x: 686, y: 25, style: { text: "E. coli", font: `italic 19px ${FONT}`, fill: "#1a1a1a", align: "center", verticalAlign: "middle" } });
  els.push({ type: "text", x: 848, y: 25, style: { text: "Human", font: `19px ${FONT}`, fill: "#1a1a1a", align: "center", verticalAlign: "middle" } });
  // legend
  const lx = [52, 398, 650, 903];
  SAMPLE_LABELS.forEach((lab, g) => {
    els.push({ type: "circle", shape: { cx: lx[g], cy: 818, r: 10 }, style: { fill: BOX_FILL[g], stroke: "#222", lineWidth: 1.5 } });
    els.push({
      type: "text", x: lx[g] + 20, y: 818,
      style: { text: lab, font: `20px ${FONT}`, fill: "#1a1a1a", align: "left", verticalAlign: "middle",
        rich: { i: { fontStyle: "italic", fontSize: 20, fontFamily: FONT } } },
    });
  });
  return els;
}

export default function App() {
  const ref = useRef<HTMLDivElement>(null);
  useEffect(() => {
    const chart = echarts.init(ref.current as HTMLDivElement, null, { renderer: "svg" });
    chart.setOption(buildOption() as any);
    chart.setOption({ graphic: buildGraphic(chart) } as any);
    return () => chart.dispose();
  }, []);
  return <div ref={ref} style={{ position: "absolute", left: 0, top: 0, width: 1207, height: 836, background: "#fff" }} />;
}
